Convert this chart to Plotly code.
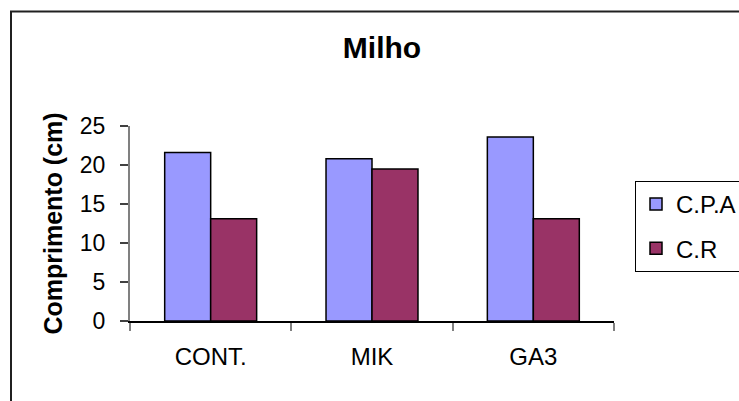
import plotly.graph_objects as go

# Comprimento médio por tratamento (cm)
categories = ["CONT.", "MIK", "GA3"]
series_names = ["C.P.A", "C.R"]
cpa_values = [21.6, 20.8, 23.6]
cr_values = [13.1, 19.5, 13.1]
y_ticks = [0, 5, 10, 15, 20, 25]

colors = {"C.P.A": "#9999FF", "C.R": "#993366"}
font_family = "Liberation Sans, Arial, sans-serif"

fig = go.Figure()
for i, (name, vals) in enumerate(zip(series_names, [cpa_values, cr_values])):
    fig.add_trace(go.Bar(
        x=categories, y=vals, name=name,
        legendgroup=f"g{i}",
        marker=dict(color=colors[name], line=dict(color="black", width=1.5)),
    ))

L, R, T, B = 130, 125, 126, 80
W, H = 739, 401
pw, ph = W - L - R, H - T - B

fig.update_layout(
    width=W, height=H,
    margin=dict(l=L, r=R, t=T, b=B, autoexpand=False),
    paper_bgcolor="white", plot_bgcolor="white",
    barmode="group", bargap=0.43, bargroupgap=0,
    font=dict(family=font_family, size=23, color="black"),
    title=dict(text="<b>Milho</b>", x=382 / W, xref="container", xanchor="center",
               y=1 - 47 / H, yref="container", yanchor="middle",
               font=dict(size=30, family=font_family, color="black")),
    showlegend=True,
    legend=dict(x=(635 - L) / pw, xanchor="left", y=(H - B - 181) / ph, yanchor="top",
                bordercolor="black", borderwidth=1, bgcolor="white",
                traceorder="grouped", tracegroupgap=10, itemwidth=30,
                font=dict(size=24, family=font_family)),
    xaxis=dict(type="category", showline=True, linecolor="black", linewidth=1.5,
               ticks="outside", tickson="boundaries", ticklen=8, tickcolor="#808080",
               tickwidth=2, showgrid=False, ticklabelstandoff=13,
               tickfont=dict(size=24)),
    yaxis=dict(range=[0, 25], tickvals=y_ticks, showline=True, linecolor="#808080",
               linewidth=2, ticks="outside", ticklen=8, tickcolor="#404040",
               tickwidth=1.5, showgrid=False, zeroline=False, ticklabelstandoff=10,
               tickfont=dict(size=23),
               title=dict(text="<b>Comprimento (cm)</b>", standoff=10,
                          font=dict(size=25, family=font_family))),
)

# Moldura externa do gráfico
fig.add_shape(type="rect", xref="paper", yref="paper",
              x0=(11 - L) / pw, x1=(W + 20 - L) / pw,
              y0=(H - B - (H + 20)) / ph, y1=(H - B - 11.5) / ph,
              line=dict(color="#202020", width=2), fillcolor="rgba(0,0,0,0)")

fig.write_html("out.html")
